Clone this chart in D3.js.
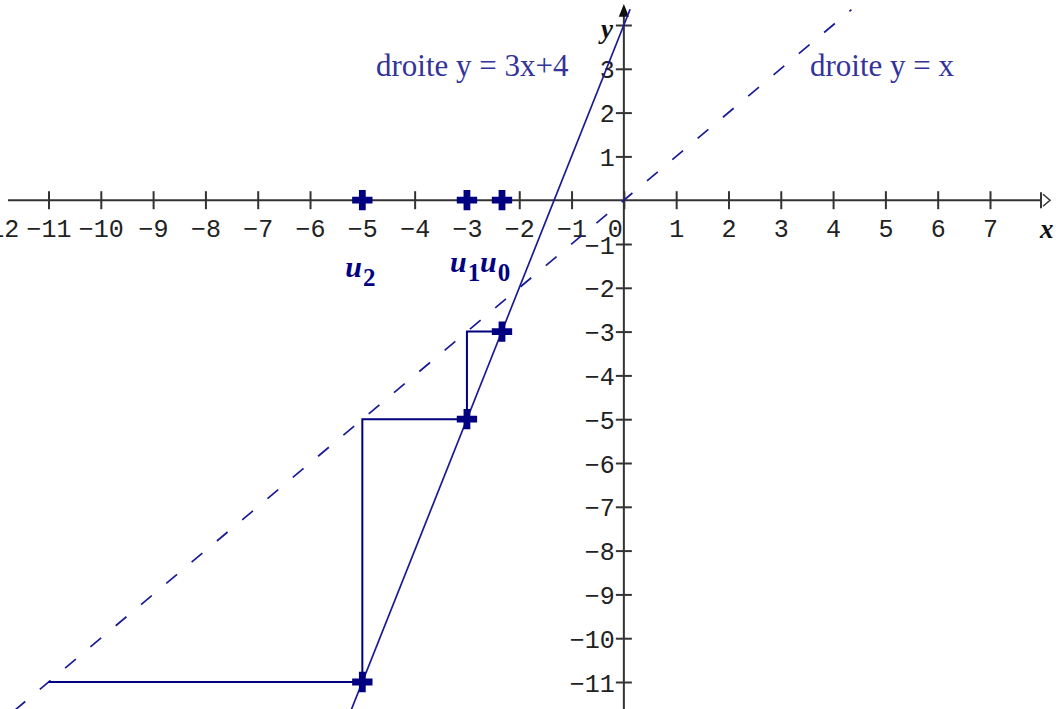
<!DOCTYPE html>
<html>
<head>
<meta charset="utf-8">
<script src="https://cdn.jsdelivr.net/npm/d3@7"></script>
<style>
  body { margin: 0; background: #fff; }
  svg { display: block; }
</style>
</head>
<body>
<svg id="chart"></svg>
<script>
// values
const xTicks = [-12, -11, -10, -9, -8, -7, -6, -5, -4, -3, -2, -1, 0, 1, 2, 3, 4, 5, 6, 7];
const yTicks = [-11, -10, -9, -8, -7, -6, -5, -4, -3, -2, -1, 1, 2, 3, 4];
const yLabelTicks = [-11, -10, -9, -8, -7, -6, -5, -4, -3, -2, -1, 1, 2, 3];

// sequence u0, u1, u2 and the next term
const uValues = [-2.33, -3, -5, -11];
const uNames = ["0", "1", "2"];

// cobweb path
const cobwebX = [-2.33, -3, -3, -5, -5, -11];
const cobwebY = [-3, -3, -5, -5, -11, -11];

// points on the line y = 3x+4
const onLineX = [-2.33, -3, -5];
const onLineY = [-3, -5, -11];

// end points of the two lines
const steepX = [-5.21, 0.12];
const steepY = [-11.63, 4.36];
const diagX = [-11.65, 4.35];
const diagY = [-11.65, 4.35];

const width = 1056;
const height = 709;

const svg = d3.select("#chart")
  .attr("width", width)
  .attr("height", height);

const x = d3.scaleLinear().domain([-11, 7]).range([48.5, 990]);
const y = d3.scaleLinear().domain([-11, 4]).range([682, 25]);

const navy = "#000080";
const lineBlue = "#1a1a96";
const textBlue = "#333399";

// axes
const axisG = svg.append("g").attr("class", "axes");

axisG.append("line")
  .attr("x1", 8).attr("x2", 1042)
  .attr("y1", y(0)).attr("y2", y(0))
  .attr("stroke", "#333").attr("stroke-width", 2);

axisG.append("line")
  .attr("x1", x(0)).attr("x2", x(0))
  .attr("y1", 12).attr("y2", height)
  .attr("stroke", "#333").attr("stroke-width", 2);

// arrow ends
axisG.append("line")
  .attr("x1", 1041).attr("x2", 1041)
  .attr("y1", y(0) - 8).attr("y2", y(0) + 8)
  .attr("stroke", "#333").attr("stroke-width", 2);
axisG.append("path")
  .attr("d", `M1043,${y(0) - 6} L1050,${y(0)} L1043,${y(0) + 6}`)
  .attr("fill", "none").attr("stroke", "#333").attr("stroke-width", 1.5);
axisG.append("path")
  .attr("d", `M${x(0) - 4},16 L${x(0)},6 L${x(0) + 4},16 Z`)
  .attr("fill", "#111").attr("stroke", "#111").attr("stroke-width", 1.5);

const xAxis = d3.axisBottom(x).tickValues(xTicks).tickSize(9).tickPadding(0);
const gx = svg.append("g")
  .attr("transform", `translate(0, ${y(0)})`)
  .call(xAxis);
gx.select(".domain").remove();
gx.selectAll(".tick line")
  .attr("y1", -9).attr("y2", 9)
  .attr("stroke", "#333").attr("stroke-width", 2);
gx.selectAll(".tick text")
  .attr("y", 37).attr("dy", 0)
  .attr("x", d => d === 0 ? -9 : 0)
  .style("font-family", "'Liberation Mono', monospace")
  .style("font-size", "25px")
  .attr("fill", "#222");

const yAxis = d3.axisLeft(y).tickValues(yTicks).tickSize(8).tickPadding(0);
const gy = svg.append("g")
  .attr("transform", `translate(${x(0)}, 0)`)
  .call(yAxis);
gy.select(".domain").remove();
gy.selectAll(".tick line")
  .attr("x1", -8).attr("x2", 8)
  .attr("stroke", "#333").attr("stroke-width", 2);
gy.selectAll(".tick text")
  .text(d => yLabelTicks.includes(d) ? d3.format("")(d) : "")
  .attr("x", -9).attr("dy", "0.36em")
  .style("font-family", "'Liberation Mono', monospace")
  .style("font-size", "25px")
  .attr("fill", "#222");

// axis names
svg.append("text")
  .attr("x", 601).attr("y", 38)
  .style("font-family", "'Liberation Serif', serif")
  .style("font-size", "27px").style("font-weight", "bold").style("font-style", "italic")
  .attr("fill", "#111")
  .text("y");
svg.append("text")
  .attr("x", 1040).attr("y", 238)
  .style("font-family", "'Liberation Serif', serif")
  .style("font-size", "27px").style("font-weight", "bold").style("font-style", "italic")
  .attr("fill", "#111")
  .text("x");

// lines
const line = d3.line().x(d => x(d[0])).y(d => y(d[1]));

svg.append("path")
  .datum(diagX.map((v, i) => [v, diagY[i]]))
  .attr("d", line)
  .attr("fill", "none")
  .attr("stroke", lineBlue)
  .attr("stroke-width", 1.7)
  .attr("stroke-dasharray", "14,19");

svg.append("path")
  .datum(steepX.map((v, i) => [v, steepY[i]]))
  .attr("d", line)
  .attr("fill", "none")
  .attr("stroke", lineBlue)
  .attr("stroke-width", 1.7);

svg.append("path")
  .datum(cobwebX.map((v, i) => [v, cobwebY[i]]))
  .attr("d", line)
  .attr("fill", "none")
  .attr("stroke", navy)
  .attr("stroke-width", 2);

// markers
const cross = d3.symbol().type(d3.symbolCross).size(230);

svg.selectAll(".mark-line")
  .data(onLineX.map((v, i) => [v, onLineY[i]]))
  .enter()
  .append("path")
  .attr("class", "mark-line")
  .attr("d", cross)
  .attr("transform", d => `translate(${x(d[0])}, ${y(d[1])})`)
  .attr("fill", navy);

svg.selectAll(".mark-axis")
  .data(uValues.slice(0, 3))
  .enter()
  .append("path")
  .attr("class", "mark-axis")
  .attr("d", cross)
  .attr("transform", d => `translate(${x(d)}, ${y(0)})`)
  .attr("fill", navy);

// u labels
const uOffsets = [-22, -17, -17];
const uBase = [272, 272, 277];
uNames.forEach((name, i) => {
  const t = svg.append("text")
    .attr("x", x(uValues[i]) + uOffsets[i])
    .attr("y", uBase[i])
    .attr("fill", navy)
    .style("font-family", "'Liberation Serif', serif")
    .style("font-weight", "bold");
  t.append("tspan")
    .style("font-style", "italic")
    .style("font-size", "30px")
    .text("u");
  t.append("tspan")
    .attr("dx", 1).attr("dy", 9)
    .style("font-size", "25px")
    .text(name);
});

// line names
svg.append("text")
  .attr("x", 376).attr("y", 76)
  .attr("fill", textBlue)
  .style("font-family", "'Liberation Serif', 'Times New Roman', serif")
  .style("font-size", "31px")
  .text("droite y = 3x+4");

svg.append("text")
  .attr("x", 810).attr("y", 76)
  .attr("fill", textBlue)
  .style("font-family", "'Liberation Serif', 'Times New Roman', serif")
  .style("font-size", "31px")
  .text("droite y = x");
</script>
</body>
</html>
